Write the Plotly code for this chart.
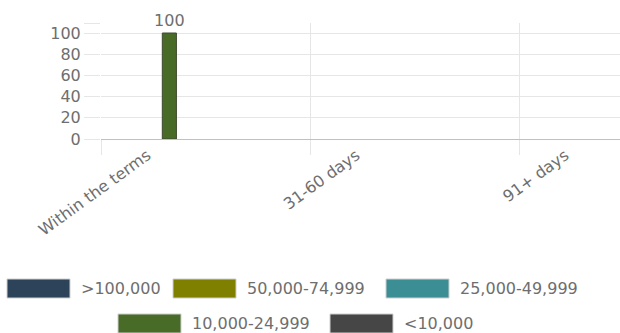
import plotly.graph_objects as go

# ---- data ----
categories = ["Within the terms", "1-30 days", "31-60 days", "61-90 days", "91+ days"]
shown_labels = ["Within the terms", "31-60 days", "91+ days"]
series_names = [">100,000", "50,000-74,999", "25,000-49,999", "10,000-24,999", "<10,000"]
series_colors = ["#2c4359", "#7f7f00", "#3b8e94", "#486b27", "#464646"]
series_values = [
    [0, 0, 0, 0, 0],
    [0, 0, 0, 0, 0],
    [0, 0, 0, 0, 0],
    [100, 0, 0, 0, 0],
    [0, 0, 0, 0, 0],
]
y_ticks = [0, 20, 40, 60, 80, 100]
y_tick_labels = ["0", "20", "40", "60", "80", "100"]

# ---- layout constants (pixels) ----
W, H = 620, 333
L, R, T, B = 101, 0, 23, 194
PW, PH = W - L - R, H - T - B
YMAX = 100 * PH / 106.0
FONT = "DejaVu Sans"
TXT = "#6e6e6e"
GRID = "#e6e6e6"

fig = go.Figure()
for name, color, vals in zip(series_names, series_colors, series_values):
    fig.add_trace(go.Bar(
        x=categories, y=vals, name=name,
        marker=dict(color=color,
                    line=dict(color="#3c4a30", width=[1 if v else 0 for v in vals])),
        text=[str(v) if v else "" for v in vals],
        textposition="outside", cliponaxis=False, constraintext="none",
        textfont=dict(family=FONT, size=16, color=TXT),
        showlegend=False,
    ))

fig.update_layout(
    width=W, height=H,
    margin=dict(l=L, r=R, t=T, b=B, pad=0),
    paper_bgcolor="white", plot_bgcolor="white",
    barmode="group", bargap=0.229, bargroupgap=0.125,
    font=dict(family=FONT, size=16, color=TXT),
)
fig.update_xaxes(
    type="category", categoryorder="array", categoryarray=categories,
    range=[-0.5, -0.5 + PW / 104.5],
    tickmode="array", tickvals=shown_labels, ticktext=shown_labels,
    tickson="boundaries", ticks="outside", ticklen=15, tickcolor=GRID,
    showgrid=True, gridcolor=GRID, gridwidth=1,
    showline=True, linecolor="#c0c0c0", linewidth=1,
    tickangle=-36, ticklabelshift=-6,
    tickfont=dict(family=FONT, size=16, color=TXT),
)
fig.update_yaxes(
    range=[0, YMAX],
    tickmode="array", tickvals=y_ticks + [YMAX], ticktext=y_tick_labels + [""],
    ticks="outside", ticklen=16, tickcolor=GRID,
    showgrid=True, gridcolor=GRID, gridwidth=1, zeroline=False,
    tickfont=dict(family=FONT, size=16, color=TXT),
)

# ---- custom legend (large swatches) ----
legend_rows = [0, 0, 0, 1, 1]
legend_x = [7, 173, 386, 118, 330]
row_y = [288.5, 323.5]
SW, SH = 63, 19
shapes, annots = [], []
for name, color, row, x0 in zip(series_names, series_colors, legend_rows, legend_x):
    yc = row_y[row]
    shapes.append(dict(
        type="rect", xref="paper", yref="paper",
        x0=(x0 - L) / PW, x1=(x0 + SW - L) / PW,
        y0=(H - B - (yc + SH / 2)) / PH, y1=(H - B - (yc - SH / 2)) / PH,
        fillcolor=color, line=dict(color="#cfcfcf", width=1),
    ))
    annots.append(dict(
        xref="paper", yref="paper",
        x=(x0 + SW + 9 - L) / PW, y=(H - B - yc) / PH,
        xanchor="left", yanchor="middle", showarrow=False,
        text=name.replace("<", "&lt;"),
        font=dict(family=FONT, size=16, color=TXT),
    ))
fig.update_layout(shapes=shapes, annotations=annots)

fig.write_html("out.html")
